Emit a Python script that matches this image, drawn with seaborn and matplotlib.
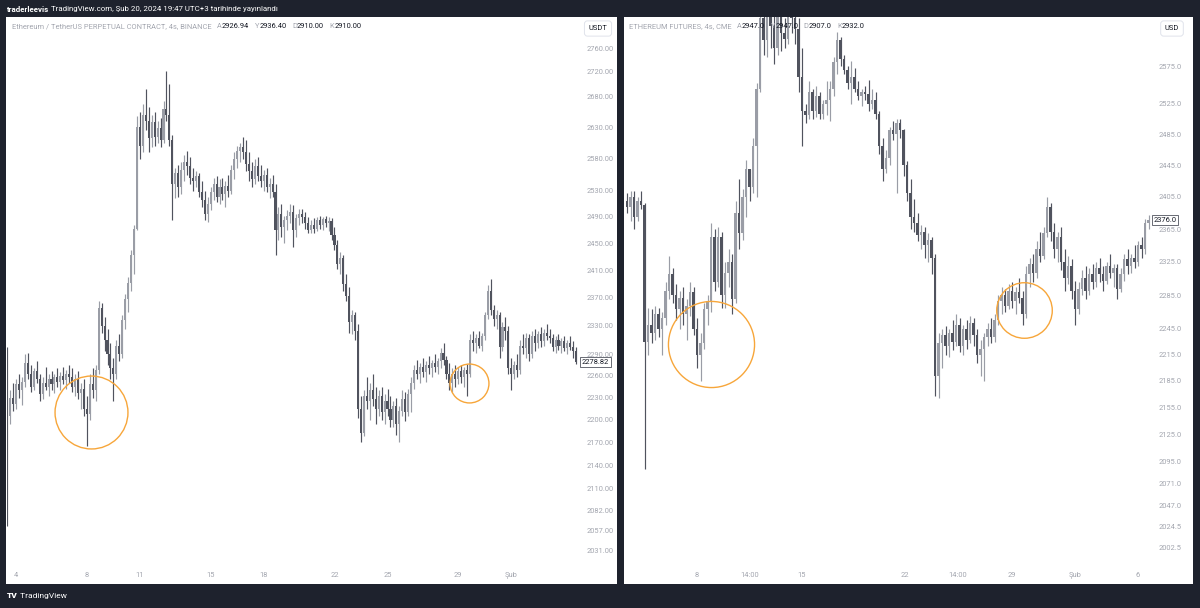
import numpy as np
import pandas as pd
import seaborn as sns
import matplotlib.pyplot as plt

# ---- left chart: ETH/USDT perpetual, Binance, 4h bars ----
eth_open = [
    2290, 2205, 2230, 2222, 2248, 2240, 2252, 2278, 2262, 2245,
    2266, 2255, 2235, 2250, 2244, 2255, 2248, 2258, 2252, 2260,
    2254, 2262, 2258, 2245, 2255, 2236, 2242, 2215, 2208, 2248,
    2240, 2268, 2355, 2330, 2310, 2290, 2270, 2262, 2302, 2290,
    2338, 2368, 2392, 2432, 2472, 2630, 2600, 2650, 2640, 2612,
    2638, 2615, 2628, 2610, 2660, 2650, 2610, 2540, 2558, 2535,
    2562, 2575, 2568, 2550, 2545, 2552, 2528, 2515, 2495, 2510,
    2528, 2540, 2520, 2535, 2525, 2538, 2530, 2562, 2580, 2592,
    2598, 2590, 2572, 2560, 2548, 2568, 2552, 2545, 2555, 2535,
    2540, 2528, 2470, 2495, 2475, 2485, 2492, 2498, 2470, 2488,
    2495, 2490, 2480, 2470, 2478, 2472, 2485, 2478, 2486, 2480,
    2484, 2462, 2448, 2420, 2428, 2390, 2372, 2335, 2345, 2322,
    2215, 2182, 2232, 2225, 2240, 2228, 2215, 2232, 2210, 2225,
    2215, 2200, 2218, 2195, 2212, 2228, 2210, 2235, 2250, 2268,
    2262, 2272, 2265, 2275, 2270, 2278, 2272, 2280, 2292, 2282,
    2262, 2250, 2262, 2255, 2266, 2258, 2268, 2262, 2310, 2305,
    2312, 2302, 2315, 2345, 2380, 2352, 2340, 2345, 2300, 2328,
    2322, 2270, 2262, 2275, 2268, 2302, 2298, 2312, 2290, 2315,
    2305, 2318, 2308, 2320, 2315, 2312, 2300, 2310, 2302, 2308,
    2298, 2305, 2300, 2295,
]
eth_high = [
    2300, 2240, 2250, 2255, 2262, 2258, 2290, 2292, 2275, 2270,
    2280, 2262, 2258, 2272, 2262, 2266, 2262, 2270, 2265, 2272,
    2268, 2275, 2270, 2262, 2266, 2250, 2255, 2232, 2262, 2270,
    2275, 2365, 2362, 2342, 2325, 2305, 2285, 2310, 2318, 2345,
    2375, 2400, 2440, 2478, 2648, 2655, 2668, 2692, 2662, 2650,
    2655, 2640, 2645, 2672, 2722, 2700, 2618, 2565, 2570, 2575,
    2585, 2592, 2582, 2565, 2560, 2558, 2545, 2530, 2520, 2535,
    2550, 2552, 2548, 2550, 2545, 2555, 2570, 2590, 2600, 2605,
    2615, 2610, 2590, 2575, 2580, 2582, 2570, 2562, 2565, 2550,
    2555, 2540, 2505, 2510, 2492, 2500, 2510, 2508, 2495, 2502,
    2502, 2498, 2490, 2485, 2488, 2490, 2492, 2490, 2492, 2490,
    2488, 2475, 2455, 2437, 2432, 2405, 2385, 2352, 2350, 2332,
    2232, 2240, 2258, 2250, 2262, 2245, 2240, 2245, 2235, 2242,
    2232, 2225, 2230, 2218, 2240, 2238, 2242, 2258, 2275, 2282,
    2278, 2285, 2280, 2288, 2282, 2290, 2285, 2298, 2306, 2288,
    2278, 2270, 2275, 2272, 2275, 2272, 2276, 2318, 2322, 2318,
    2322, 2320, 2350, 2388, 2397, 2360, 2352, 2350, 2335, 2342,
    2330, 2285, 2280, 2290, 2310, 2318, 2320, 2318, 2322, 2325,
    2322, 2328, 2325, 2332, 2325, 2318, 2315, 2318, 2312, 2315,
    2310, 2315, 2308, 2300,
]
eth_low = [
    2062, 2195, 2212, 2215, 2230, 2220, 2245, 2255, 2238, 2240,
    2250, 2225, 2228, 2240, 2232, 2240, 2236, 2245, 2240, 2248,
    2242, 2250, 2238, 2232, 2228, 2215, 2205, 2165, 2200, 2230,
    2225, 2262, 2320, 2295, 2275, 2255, 2225, 2255, 2280, 2285,
    2325, 2350, 2380, 2405, 2470, 2580, 2590, 2625, 2590, 2598,
    2600, 2605, 2598, 2605, 2640, 2600, 2485, 2518, 2520, 2525,
    2545, 2555, 2540, 2530, 2535, 2520, 2505, 2485, 2482, 2500,
    2515, 2512, 2510, 2515, 2505, 2520, 2525, 2548, 2565, 2575,
    2580, 2560, 2545, 2535, 2540, 2545, 2535, 2530, 2528, 2518,
    2520, 2432, 2455, 2460, 2450, 2470, 2480, 2445, 2460, 2478,
    2480, 2472, 2466, 2465, 2466, 2468, 2472, 2470, 2474, 2468,
    2455, 2440, 2412, 2405, 2380, 2365, 2320, 2318, 2310, 2202,
    2170, 2178, 2215, 2200, 2218, 2195, 2205, 2200, 2195, 2205,
    2190, 2190, 2180, 2170, 2205, 2198, 2205, 2210, 2242, 2255,
    2250, 2258, 2252, 2262, 2258, 2265, 2262, 2270, 2275, 2255,
    2240, 2238, 2245, 2248, 2250, 2245, 2232, 2258, 2295, 2292,
    2298, 2295, 2310, 2340, 2345, 2330, 2325, 2285, 2295, 2310,
    2262, 2240, 2255, 2258, 2262, 2290, 2285, 2280, 2285, 2295,
    2298, 2300, 2302, 2310, 2305, 2295, 2292, 2296, 2292, 2295,
    2290, 2296, 2285, 2276,
]
eth_close = [
    2210, 2230, 2222, 2248, 2240, 2252, 2278, 2262, 2245, 2266,
    2255, 2235, 2250, 2244, 2255, 2248, 2258, 2252, 2260, 2254,
    2262, 2258, 2245, 2255, 2236, 2242, 2215, 2208, 2248, 2240,
    2268, 2355, 2330, 2310, 2290, 2270, 2262, 2302, 2290, 2338,
    2368, 2392, 2432, 2472, 2630, 2600, 2650, 2640, 2612, 2638,
    2615, 2628, 2610, 2660, 2650, 2610, 2540, 2558, 2535, 2562,
    2575, 2568, 2550, 2545, 2552, 2528, 2515, 2495, 2510, 2528,
    2540, 2520, 2535, 2525, 2538, 2530, 2562, 2580, 2592, 2598,
    2590, 2572, 2560, 2548, 2568, 2552, 2545, 2555, 2535, 2540,
    2528, 2470, 2495, 2475, 2485, 2492, 2498, 2470, 2488, 2495,
    2490, 2480, 2470, 2478, 2472, 2485, 2478, 2486, 2480, 2484,
    2462, 2448, 2420, 2428, 2390, 2372, 2335, 2345, 2322, 2215,
    2182, 2232, 2225, 2240, 2228, 2215, 2232, 2210, 2225, 2215,
    2200, 2218, 2195, 2212, 2228, 2210, 2235, 2250, 2268, 2262,
    2272, 2265, 2275, 2270, 2278, 2272, 2280, 2292, 2282, 2262,
    2250, 2262, 2255, 2266, 2258, 2268, 2262, 2310, 2305, 2312,
    2302, 2315, 2345, 2380, 2352, 2340, 2345, 2300, 2328, 2322,
    2270, 2262, 2275, 2268, 2302, 2298, 2312, 2290, 2315, 2305,
    2318, 2308, 2320, 2315, 2312, 2300, 2310, 2302, 2308, 2298,
    2305, 2300, 2295, 2278.82,
]
eth_price_ticks = [2760, 2720, 2680, 2630, 2580, 2530, 2490, 2450, 2410, 2370, 2330,
                   2290, 2260, 2230, 2200, 2170, 2140, 2110, 2082, 2057, 2031]
eth_date_bars = [3, 27, 45, 69, 87, 111, 129, 153, 171]
eth_date_labels = ["4", "8", "11", "15", "18", "22", "25", "29", "Şub"]

# ---- right chart: CME Ethereum futures, 4h bars ----
cme_open = [
    2400, 2392, 2405, 2380, 2400, 2395, 2230, 2250, 2240, 2262,
    2245, 2258, 2290, 2310, 2285, 2268, 2282, 2262, 2272, 2288,
    2245, 2215, 2228, 2268, 2278, 2355, 2300, 2355, 2285, 2312,
    2325, 2280, 2385, 2360, 2405, 2440, 2418, 2470, 2545, 2640,
    2610, 2665, 2630, 2600, 2650, 2620, 2612, 2660, 2640, 2625,
    2560, 2515, 2510, 2540, 2515, 2535, 2512, 2525, 2530, 2545,
    2580, 2610, 2585, 2570, 2552, 2560, 2545, 2535, 2540, 2538,
    2525, 2530, 2512, 2470, 2440, 2455, 2490, 2485, 2500, 2490,
    2445, 2410, 2380, 2372, 2358, 2362, 2345, 2352, 2330, 2190,
    2228, 2238, 2225, 2240, 2230, 2250, 2225, 2245, 2232, 2252,
    2238, 2215, 2222, 2235, 2245, 2235, 2255, 2278, 2285, 2272,
    2290, 2278, 2288, 2282, 2262, 2310, 2322, 2312, 2340, 2332,
    2360, 2392, 2362, 2340, 2355, 2325, 2305, 2320, 2290, 2268,
    2292, 2305, 2290, 2310, 2300, 2318, 2310, 2302, 2320, 2312,
    2318, 2292, 2310, 2328, 2320, 2330, 2325, 2345, 2340, 2372,
]
cme_high = [
    2410, 2413, 2412, 2405, 2412, 2398, 2270, 2268, 2272, 2270,
    2265, 2300, 2332, 2318, 2298, 2290, 2295, 2280, 2300, 2295,
    2258, 2240, 2275, 2285, 2372, 2365, 2368, 2362, 2325, 2340,
    2335, 2400, 2428, 2415, 2452, 2440, 2480, 2552, 2660, 2700,
    2690, 2720, 2680, 2670, 2710, 2640, 2680, 2720, 2700, 2640,
    2600, 2525, 2555, 2545, 2548, 2540, 2530, 2555, 2555, 2588,
    2622, 2615, 2590, 2575, 2582, 2572, 2555, 2545, 2548, 2556,
    2545, 2540, 2515, 2480, 2465, 2495, 2502, 2505, 2505, 2492,
    2450, 2428, 2403, 2385, 2370, 2368, 2360, 2355, 2335, 2240,
    2245, 2248, 2245, 2255, 2262, 2258, 2250, 2255, 2260, 2258,
    2245, 2232, 2240, 2252, 2258, 2262, 2285, 2295, 2292, 2298,
    2300, 2295, 2305, 2290, 2320, 2330, 2335, 2350, 2362, 2368,
    2405, 2398, 2372, 2362, 2368, 2340, 2332, 2328, 2302, 2300,
    2315, 2320, 2318, 2322, 2325, 2330, 2320, 2325, 2335, 2322,
    2322, 2318, 2335, 2340, 2335, 2345, 2350, 2355, 2378, 2382,
]
cme_low = [
    2385, 2375, 2365, 2375, 2390, 2087, 2215, 2228, 2232, 2235,
    2215, 2250, 2280, 2275, 2255, 2245, 2250, 2232, 2260, 2238,
    2200, 2185, 2222, 2250, 2265, 2290, 2295, 2270, 2270, 2295,
    2262, 2275, 2340, 2352, 2380, 2400, 2410, 2405, 2540, 2590,
    2588, 2600, 2578, 2590, 2595, 2600, 2605, 2620, 2605, 2540,
    2470, 2500, 2505, 2505, 2508, 2505, 2505, 2510, 2503, 2535,
    2565, 2575, 2565, 2545, 2525, 2540, 2530, 2522, 2530, 2515,
    2518, 2505, 2460, 2425, 2435, 2445, 2478, 2410, 2480, 2432,
    2400, 2365, 2362, 2350, 2340, 2330, 2325, 2310, 2168, 2165,
    2200, 2215, 2212, 2220, 2225, 2218, 2215, 2222, 2228, 2225,
    2205, 2190, 2185, 2225, 2228, 2230, 2250, 2262, 2265, 2268,
    2270, 2262, 2275, 2250, 2258, 2295, 2300, 2305, 2325, 2328,
    2355, 2350, 2330, 2325, 2315, 2290, 2298, 2280, 2250, 2262,
    2285, 2280, 2285, 2292, 2295, 2300, 2290, 2298, 2305, 2295,
    2280, 2288, 2302, 2310, 2312, 2318, 2320, 2330, 2335, 2365,
]
cme_close = [
    2392, 2405, 2380, 2400, 2395, 2230, 2250, 2240, 2262, 2245,
    2258, 2290, 2310, 2285, 2268, 2282, 2262, 2272, 2288, 2245,
    2215, 2228, 2268, 2278, 2355, 2300, 2355, 2285, 2312, 2325,
    2280, 2385, 2360, 2405, 2440, 2418, 2470, 2545, 2640, 2610,
    2665, 2630, 2600, 2650, 2620, 2612, 2660, 2640, 2625, 2560,
    2515, 2510, 2540, 2515, 2535, 2512, 2525, 2530, 2545, 2580,
    2610, 2585, 2570, 2552, 2560, 2545, 2535, 2540, 2538, 2525,
    2530, 2512, 2470, 2440, 2455, 2490, 2485, 2500, 2490, 2445,
    2410, 2380, 2372, 2358, 2362, 2345, 2352, 2330, 2190, 2228,
    2238, 2225, 2240, 2230, 2250, 2225, 2245, 2232, 2252, 2238,
    2215, 2222, 2235, 2245, 2235, 2255, 2278, 2285, 2272, 2290,
    2278, 2288, 2282, 2262, 2310, 2322, 2312, 2340, 2332, 2360,
    2392, 2362, 2340, 2355, 2325, 2305, 2320, 2290, 2268, 2292,
    2305, 2290, 2310, 2300, 2318, 2310, 2302, 2320, 2312, 2318,
    2292, 2310, 2328, 2320, 2330, 2325, 2345, 2340, 2372, 2376.0,
]
cme_price_ticks = [2575, 2525, 2485, 2445, 2405, 2365, 2325, 2285, 2245, 2215,
                   2185, 2155, 2125, 2095, 2071, 2047, 2024.5, 2002.5]
cme_date_bars = [20, 35, 50, 79.5, 94.5, 110, 128, 146]
cme_date_labels = ["8", "14:00", "15", "22", "14:00", "29", "Şub", "6"]

# ---- style ----
sns.set_theme(style="white")
plt.rcParams["font.family"] = ["Roboto", "DejaVu Sans"]

BG = "#1e222d"
UP = "#9a9da6"
DOWN = "#50535e"
GREY = "#a3a6af"
INK = "#131722"
ORANGE = "#f7a63a"
FS = 5.4
W, H = 1200, 608

fig = plt.figure(figsize=(12, 6.08), dpi=100)
fig.patch.set_facecolor(BG)

# full-figure overlay in pixel coordinates for panels and texts
overlay = fig.add_axes([0, 0, 1, 1], zorder=-5)
overlay.set_xlim(0, W)
overlay.set_ylim(H, 0)
overlay.axis("off")
overlay.add_patch(plt.Rectangle((6, 17), 611, 567, color="white", lw=0))
overlay.add_patch(plt.Rectangle((624, 17), 569, 567, color="white", lw=0))

texts = fig.add_axes([0, 0, 1, 1], zorder=20)
texts.set_xlim(0, W)
texts.set_ylim(H, 0)
texts.axis("off")


def px_axes(x0, x1, y0, y1):
    return fig.add_axes([x0 / W, 1 - y1 / H, (x1 - x0) / W, (y1 - y0) / H])


def draw_candles(ax, opens, highs, lows, closes):
    df = pd.DataFrame({"open": opens, "high": highs, "low": lows, "close": closes})
    df["bar"] = np.arange(len(df))
    rising = df["close"] >= df["open"]
    colors = np.where(rising, UP, DOWN)
    body_low = df[["open", "close"]].min(axis=1)
    body = (df["close"] - df["open"]).abs().clip(lower=0.8)
    ax.vlines(df["bar"], df["low"], df["high"], colors=colors, linewidth=0.85, zorder=2)
    ax.bar(df["bar"], body, bottom=body_low, width=0.7, color=colors, linewidth=0, zorder=3)


def style_axes(ax, xlim, ylim, ticks, fmt, date_bars, date_labels):
    ax.set_facecolor("white")
    ax.set_yscale("log")
    ax.set_xlim(*xlim)
    ax.set_ylim(*ylim)
    ax.yaxis.tick_right()
    ax.set_yticks(ticks, labels=[fmt.format(t) for t in ticks])
    ax.set_yticks([], minor=True)
    ax.set_xticks(date_bars, labels=date_labels)
    ax.tick_params(axis="y", length=0, pad=5, labelsize=FS, labelcolor=GREY)
    ax.tick_params(axis="x", length=0, pad=4, labelsize=FS, labelcolor=GREY)
    ax.grid(False)
    sns.despine(ax=ax, left=True, bottom=True, right=True, top=True)


def last_price(ax, value, fmt):
    ax.text(1.003, value, fmt.format(value), transform=ax.get_yaxis_transform(),
            ha="left", va="center", fontsize=FS, color=INK, zorder=10,
            bbox=dict(boxstyle="square,pad=0.22", fc="white", ec="#50535e", lw=0.6))


def circle(ax, bar, price, size):
    ax.plot([bar], [price], marker="o", ms=size, mfc="none", mec=ORANGE, mew=1.0,
            zorder=6, clip_on=False)


def chain(x, y, pieces, size=FS):
    prev = None
    for text, color, weight, gap in pieces:
        if prev is None:
            prev = texts.text(x, y, text, color=color, fontsize=size, fontweight=weight,
                              ha="left", va="center")
        else:
            prev = texts.annotate(text, xy=(1, 0.5), xycoords=prev, xytext=(gap, 0),
                                  textcoords="offset points", color=color, fontsize=size,
                                  fontweight=weight, ha="left", va="center")


# left panel
ax1 = px_axes(7, 580, 17, 566)
draw_candles(ax1, eth_open, eth_high, eth_low, eth_close)
style_axes(ax1, (-0.1, 194.3), (2012.4, 2812.7), eth_price_ticks, "{:.2f}",
           eth_date_bars, eth_date_labels)
last_price(ax1, eth_close[-1], "{:.2f}")
circle(ax1, 28.3, 2211, 52.5)
circle(ax1, 156.8, 2250, 28)

# right panel
ax2 = px_axes(624, 1152, 17, 566)
draw_candles(ax2, cme_open, cme_high, cme_low, cme_close)
style_axes(ax2, (-0.86, 150.0), (1983.5, 2642), cme_price_ticks, "{:.1f}",
           cme_date_bars, cme_date_labels)
last_price(ax2, cme_close[-1], "{:.1f}")
circle(ax2, 24, 2227, 62)
circle(ax2, 113.4, 2267, 40)

# header, legends, currency boxes, logo
chain(7, 9, [("traderleevis", "white", "semibold", 0),
             (" TradingView.com, Şub 20, 2024 19:47 UTC+3 tarihinde yayınlandı", "white", "normal", 0)],
      size=5.7)
chain(12, 27, [("Ethereum / TetherUS PERPETUAL CONTRACT, 4s, BINANCE", GREY, "normal", 0),
               ("A", GREY, "normal", 4), ("2926.94", INK, "normal", 0),
               ("Y", GREY, "normal", 4), ("2936.40", INK, "normal", 0),
               ("D", GREY, "normal", 4), ("2910.00", INK, "normal", 0),
               ("K", GREY, "normal", 4), ("2910.00", INK, "normal", 0)])
chain(629, 27, [("ETHEREUM FUTURES, 4s, CME", GREY, "normal", 0),
                ("A", GREY, "normal", 4), ("2947.0", INK, "normal", 0),
                ("Y", GREY, "normal", 4), ("2947.0", INK, "normal", 0),
                ("D", GREY, "normal", 4), ("2907.0", INK, "normal", 0),
                ("K", GREY, "normal", 4), ("2932.0", INK, "normal", 0)])
for cx, label in [(598, "USDT"), (1172, "USD")]:
    texts.text(cx, 28.5, label, ha="center", va="center", fontsize=FS, color=INK,
               bbox=dict(boxstyle="round,pad=0.55,rounding_size=0.4", fc="white",
                         ec="#e0e3eb", lw=0.7))
chain(7, 596, [("TV", "white", "heavy", 0), (" TradingView", "white", "normal", 0)], size=6)

fig.savefig("out.png", dpi=100, facecolor=BG)
